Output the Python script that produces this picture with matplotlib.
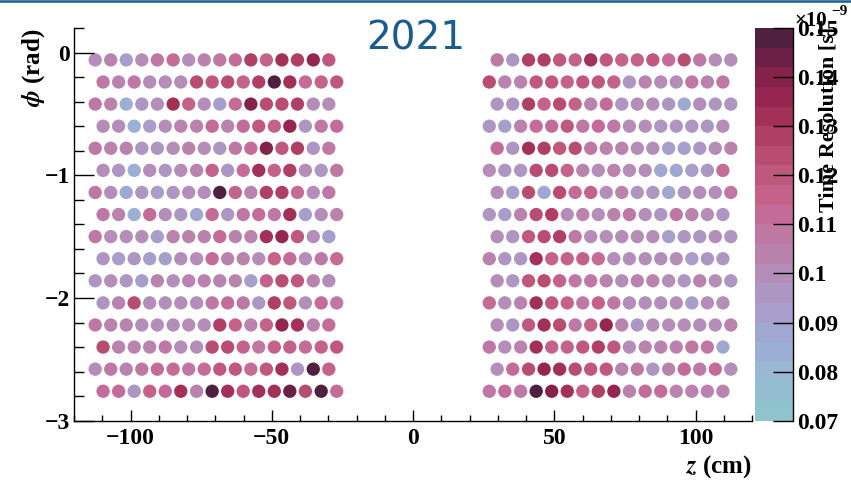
import numpy as np
import matplotlib
matplotlib.use("Agg")
import matplotlib.pyplot as plt
from matplotlib.colors import ListedColormap, BoundaryNorm
from matplotlib.lines import Line2D
from matplotlib.ticker import MultipleLocator, FixedLocator, FuncFormatter

plt.rcParams["font.family"] = ["Liberation Serif", "DejaVu Serif"]
plt.rcParams["font.weight"] = "bold"
plt.rcParams["mathtext.fontset"] = "stix"

# Module centres along z (cm); even rows / odd rows are staggered
z_left_even = [-112.5, -107.0, -101.5, -96.0, -90.5, -84.9, -79.4, -73.9,
               -68.4, -62.9, -57.4, -51.9, -46.4, -40.9, -35.3, -29.8]
z_left_odd = [-109.7, -104.2, -98.7, -93.2, -87.7, -82.2, -76.6, -71.1,
              -65.6, -60.1, -54.6, -49.1, -43.6, -38.1, -32.5, -27.0]
z_right_even = [29.8, 35.3, 40.9, 46.4, 51.9, 57.4, 62.9, 68.4,
                73.9, 79.4, 84.9, 90.5, 96.0, 101.5, 107.0, 112.5]
z_right_odd = [27.0, 32.5, 38.1, 43.6, 49.1, 54.6, 60.1, 65.6,
               71.1, 76.6, 82.2, 87.7, 93.2, 98.7, 104.2, 109.7]

# Row positions in phi (rad)
phi_rows = [-0.06, -0.24, -0.42, -0.60, -0.78, -0.96, -1.14, -1.32,
            -1.50, -1.68, -1.86, -2.04, -2.22, -2.40, -2.58, -2.76]

# Time resolution per module (units of 1e-9 s), one list per phi row
res_left = [
    [0.101, 0.104, 0.091, 0.101, 0.106, 0.113, 0.101, 0.103, 0.106, 0.111, 0.126, 0.114, 0.131, 0.127, 0.137, 0.118],
    [0.107, 0.104, 0.106, 0.100, 0.098, 0.099, 0.124, 0.121, 0.122, 0.114, 0.126, 0.147, 0.132, 0.113, 0.116, 0.119],
    [0.106, 0.102, 0.085, 0.096, 0.098, 0.132, 0.114, 0.101, 0.092, 0.111, 0.139, 0.125, 0.123, 0.126, 0.100, 0.099],
    [0.099, 0.100, 0.083, 0.093, 0.099, 0.104, 0.102, 0.113, 0.105, 0.111, 0.119, 0.114, 0.136, 0.097, 0.106, 0.110],
    [0.106, 0.103, 0.104, 0.094, 0.095, 0.099, 0.102, 0.099, 0.096, 0.107, 0.111, 0.141, 0.121, 0.126, 0.096, 0.106],
    [0.099, 0.097, 0.083, 0.099, 0.097, 0.098, 0.102, 0.117, 0.094, 0.111, 0.131, 0.115, 0.126, 0.098, 0.096, 0.106],
    [0.106, 0.101, 0.089, 0.094, 0.092, 0.097, 0.099, 0.101, 0.149, 0.115, 0.104, 0.126, 0.129, 0.112, 0.098, 0.106],
    [0.106, 0.102, 0.083, 0.113, 0.100, 0.096, 0.088, 0.113, 0.095, 0.106, 0.111, 0.106, 0.132, 0.092, 0.101, 0.102],
    [0.106, 0.100, 0.099, 0.099, 0.092, 0.104, 0.104, 0.102, 0.111, 0.105, 0.104, 0.133, 0.135, 0.121, 0.099, 0.093],
    [0.096, 0.093, 0.096, 0.090, 0.092, 0.099, 0.100, 0.113, 0.103, 0.105, 0.099, 0.115, 0.113, 0.099, 0.108, 0.112],
    [0.097, 0.100, 0.097, 0.090, 0.104, 0.099, 0.102, 0.102, 0.105, 0.105, 0.092, 0.117, 0.122, 0.121, 0.102, 0.101],
    [0.097, 0.104, 0.122, 0.099, 0.098, 0.100, 0.099, 0.106, 0.111, 0.106, 0.096, 0.126, 0.121, 0.098, 0.111, 0.106],
    [0.106, 0.104, 0.103, 0.100, 0.099, 0.099, 0.099, 0.098, 0.126, 0.115, 0.102, 0.115, 0.135, 0.130, 0.105, 0.113],
    [0.124, 0.102, 0.102, 0.104, 0.106, 0.101, 0.098, 0.122, 0.122, 0.115, 0.106, 0.115, 0.117, 0.111, 0.116, 0.119],
    [0.100, 0.108, 0.105, 0.107, 0.111, 0.111, 0.106, 0.112, 0.121, 0.119, 0.113, 0.119, 0.131, 0.097, 0.149, 0.117],
    [0.111, 0.113, 0.097, 0.116, 0.112, 0.130, 0.104, 0.149, 0.133, 0.119, 0.131, 0.133, 0.145, 0.124, 0.148, 0.111],
]
res_right = [
    [0.108, 0.097, 0.126, 0.129, 0.121, 0.117, 0.130, 0.120, 0.115, 0.117, 0.120, 0.113, 0.124, 0.106, 0.101, 0.101],
    [0.122, 0.102, 0.104, 0.120, 0.120, 0.117, 0.120, 0.121, 0.115, 0.096, 0.104, 0.100, 0.098, 0.106, 0.104, 0.106],
    [0.097, 0.096, 0.129, 0.114, 0.122, 0.117, 0.104, 0.113, 0.095, 0.100, 0.101, 0.097, 0.089, 0.100, 0.097, 0.097],
    [0.096, 0.093, 0.105, 0.112, 0.111, 0.119, 0.108, 0.111, 0.106, 0.100, 0.099, 0.094, 0.096, 0.097, 0.097, 0.100],
    [0.111, 0.097, 0.130, 0.127, 0.120, 0.124, 0.106, 0.102, 0.104, 0.100, 0.098, 0.092, 0.090, 0.096, 0.100, 0.102],
    [0.099, 0.097, 0.096, 0.124, 0.124, 0.115, 0.104, 0.100, 0.102, 0.099, 0.098, 0.087, 0.087, 0.090, 0.094, 0.111],
    [0.099, 0.093, 0.122, 0.086, 0.122, 0.113, 0.116, 0.100, 0.104, 0.097, 0.097, 0.088, 0.094, 0.098, 0.099, 0.108],
    [0.094, 0.090, 0.104, 0.124, 0.126, 0.100, 0.104, 0.101, 0.104, 0.107, 0.099, 0.096, 0.106, 0.102, 0.099, 0.097],
    [0.100, 0.094, 0.120, 0.124, 0.128, 0.108, 0.100, 0.100, 0.100, 0.100, 0.099, 0.092, 0.094, 0.094, 0.099, 0.094],
    [0.104, 0.094, 0.096, 0.131, 0.115, 0.116, 0.115, 0.113, 0.101, 0.100, 0.099, 0.098, 0.099, 0.092, 0.095, 0.096],
    [0.100, 0.096, 0.121, 0.124, 0.116, 0.106, 0.108, 0.102, 0.100, 0.104, 0.104, 0.099, 0.097, 0.102, 0.099, 0.097],
    [0.111, 0.100, 0.104, 0.130, 0.119, 0.115, 0.108, 0.117, 0.108, 0.100, 0.100, 0.098, 0.099, 0.092, 0.099, 0.100],
    [0.100, 0.096, 0.118, 0.131, 0.124, 0.108, 0.115, 0.134, 0.102, 0.097, 0.100, 0.100, 0.098, 0.100, 0.100, 0.102],
    [0.106, 0.100, 0.102, 0.133, 0.116, 0.115, 0.119, 0.128, 0.118, 0.100, 0.102, 0.104, 0.104, 0.106, 0.106, 0.089],
    [0.100, 0.113, 0.124, 0.135, 0.131, 0.122, 0.121, 0.118, 0.102, 0.108, 0.096, 0.104, 0.113, 0.106, 0.111, 0.100],
    [0.108, 0.113, 0.108, 0.149, 0.138, 0.131, 0.116, 0.128, 0.136, 0.104, 0.111, 0.113, 0.102, 0.102, 0.104, 0.102],
]

cbar_ticks = [0.07, 0.08, 0.09, 0.10, 0.11, 0.12, 0.13, 0.14, 0.15]

# 20-level palette, low to high
palette = ["#8fc4cc", "#93bed0", "#98b8d4", "#9cb0d5", "#a0a7d1",
           "#a79ecb", "#ad96c2", "#b48db9", "#b983ae", "#be78a3",
           "#c46c97", "#c4628a", "#c0587e", "#b94c71", "#af3f64",
           "#a33157", "#952650", "#84224a", "#6d2045", "#4f2040"]
cmap = ListedColormap(palette)
levels = np.arange(70, 151, 4) / 1000
norm = BoundaryNorm(levels, cmap.N)

# assemble points
zs, phis, vals = [], [], []
for i, phi in enumerate(phi_rows):
    zl = z_left_even if i % 2 == 0 else z_left_odd
    zr = z_right_even if i % 2 == 0 else z_right_odd
    for z, v in zip(zl, res_left[i]):
        zs.append(z); phis.append(phi); vals.append(v)
    for z, v in zip(zr, res_right[i]):
        zs.append(z); phis.append(phi); vals.append(v)

W, H = 851, 483
fig = plt.figure(figsize=(W / 100, H / 100), dpi=100)
ax = fig.add_axes([74 / W, (H - 420.7) / H, 678 / W, 392.7 / H])
cax = fig.add_axes([755 / W, (H - 420.7) / H, 38 / W, 392.7 / H])

sc = ax.scatter(zs, phis, c=vals, cmap=cmap, norm=norm, s=92, linewidths=0)

ax.set_xlim(-120, 120)
ax.set_ylim(-3, 0.2)
for s in ("top", "right"):
    ax.spines[s].set_visible(False)
for s in ("left", "bottom"):
    ax.spines[s].set_linewidth(1.0)
ax.xaxis.set_major_locator(FixedLocator([-100, -50, 0, 50, 100]))
ax.xaxis.set_minor_locator(MultipleLocator(10))
ax.yaxis.set_major_locator(FixedLocator([-3, -2, -1, 0]))
ax.yaxis.set_minor_locator(MultipleLocator(0.2))
ax.tick_params(axis="x", which="major", direction="in", length=8, width=1, pad=5, labelsize=17)
ax.tick_params(axis="x", which="minor", direction="in", length=4, width=1)
ax.tick_params(axis="y", which="major", direction="in", length=14.5, width=1, pad=3, labelsize=17)
ax.tick_params(axis="y", which="minor", direction="in", length=7, width=1)
ax.xaxis.set_major_formatter(FuncFormatter(lambda v, p: f"{v:g}".replace("-", "\u2212")))
ax.yaxis.set_major_formatter(FuncFormatter(lambda v, p: f"{v:g}".replace("-", "\u2212")))

cb = fig.colorbar(sc, cax=cax, ticks=cbar_ticks)
cb.outline.set_visible(False)
cax.yaxis.set_ticks_position("right")
cax.tick_params(axis="y", which="major", direction="in", length=14.5, width=1, pad=3, labelsize=17)
cax.tick_params(axis="y", which="minor", length=0)
cax.yaxis.set_major_formatter(FuncFormatter(lambda v, p: f"{v:.2f}".rstrip("0") if abs(v - 0.1) < 1e-9 else f"{v:.2f}"))
cax.plot([1, 1], [0, 1], transform=cax.transAxes, color="black", lw=1, clip_on=False)

# labels
fig.text(34 / W, 1 - 29 / H, r"$\phi$ (rad)", rotation=90, ha="center", va="top", fontsize=18)
fig.text(752 / W, 1 - 467 / H, r"$z$ (cm)", ha="right", va="center", fontsize=18)
fig.text(828 / W, 1 - 27 / H, "Time Resolution [s]", rotation=90, ha="center", va="top", fontsize=16)
fig.text(794 / W, 1 - 26 / H, "\u00d710", ha="left", va="baseline", fontsize=15)
fig.text(831 / W, 1 - 15 / H, "\u22129", ha="left", va="baseline", fontsize=11)

fig.text(416 / W, 1 - 38 / H, "2021", ha="center", va="center", fontsize=28,
         family="DejaVu Sans", fontweight="normal", color="#1a5c8c")
fig.add_artist(Line2D([0, 1], [1 - 1.2 / H, 1 - 1.2 / H], color="#1a5c8c", lw=1.8))

fig.savefig("out.png", dpi=100)
